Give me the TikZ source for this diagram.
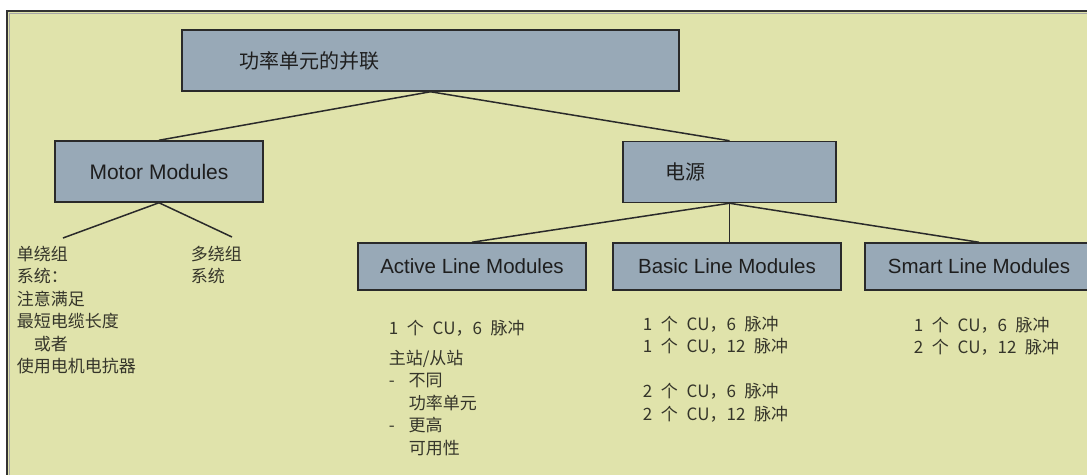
\documentclass[tikz,border=0pt]{standalone}
\usepackage{fontspec}
\setmainfont{Liberation Sans}
\newfontfamily\cjk{Noto Sans CJK SC}
\newfontfamily\cjknote[WordSpace=2.3]{Noto Sans CJK SC}
\definecolor{pagebg}{HTML}{E0E3AB}
\definecolor{boxfill}{HTML}{98A9B7}
\definecolor{boxline}{HTML}{2A2A2A}
\definecolor{notetext}{HTML}{35352A}
\definecolor{labeltext}{HTML}{1E1E1E}

\begin{document}
\begin{tikzpicture}[x=1pt, y=-1pt, line width=1.5pt,
    box/.style={draw=boxline, fill=boxfill, inner sep=0pt, text=labeltext},
    bigbox/.style={box, minimum height=61pt},
    linebox/.style={box, minimum width=228pt, minimum height=47pt,
        font=\fontsize{20.5}{24}\selectfont},
    titletext/.style={align=left, font=\cjk\fontsize{20}{24}\selectfont},
    note/.style={anchor=north west, inner sep=0pt, align=left, text=notetext,
        font=\cjknote\fontsize{17}{22.5}\selectfont},
    link/.style={draw=boxline}]
    \useasboundingbox (0,0) rectangle (1087,474);
    \clip (0,0) rectangle (1087,474);

    % Frame
    \fill[pagebg] (8,12) rectangle (1100,480);
    \draw[line width=2pt, black!80] (7,480) -- (7,11) -- (1100,11);
    \draw[line width=0.8pt, black!35] (8.9,480) -- (8.9,12.9) -- (1100,12.9);

    % Boxes
    \node[bigbox, titletext, text width=383pt, inner xsep=57pt] (parallel) at (430.5,60.5) {功率单元的并联};
    \node[bigbox, minimum width=208pt, font=\fontsize{21}{24}\selectfont] (motor) at (159,171.5) {Motor Modules};
    \node[bigbox, titletext, text width=129pt, inner xsep=42pt] (supply) at (729.5,172) {电源};
    \node[linebox] (active) at (472,266.5) {Active Line Modules};
    \node[linebox] (basic) at (727,266.5) {Basic Line Modules};
    \node[linebox] (smart) at (979,266.5) {Smart Line Modules};

    % Links
    \draw[link] (parallel.south) -- (motor.north);
    \draw[link] (parallel.south) -- (supply.north);
    \draw[link] (supply.south) -- (active.north);
    \draw[link] (supply.south) -- (supply.south |- basic.north);
    \draw[link] (supply.south) -- (smart.north);

    % Motor Modules notes
    \coordinate (single top) at (63,238);
    \coordinate (multi top) at (232,237);
    \draw[link] (motor.south) -- (single top);
    \draw[link] (motor.south) -- (multi top);
    \node[note] (single) at (16,245) {单绕组\\系统：\\注意满足\\最短电缆长度\\\hspace*{1em}或者\\使用电机电抗器};
    \node[note] (multi) at (190,245) {多绕组\\系统};

    % Line Modules notes
    \node[note] (active note) at (388,319) {1 个 CU，6 脉冲\\[7.5pt]主站/从站\\\makebox[20pt][l]{-}不同\\\hspace*{20pt}功率单元\\\makebox[20pt][l]{-}更高\\\hspace*{20pt}可用性};
    \node[note] (basic note) at (642,315) {1 个 CU，6 脉冲\\1 个 CU，12 脉冲\\[22.5pt]2 个 CU，6 脉冲\\2 个 CU，12 脉冲};
    \node[note] (smart note) at (913,316) {1 个 CU，6 脉冲\\2 个 CU，12 脉冲};
\end{tikzpicture}
\end{document}
